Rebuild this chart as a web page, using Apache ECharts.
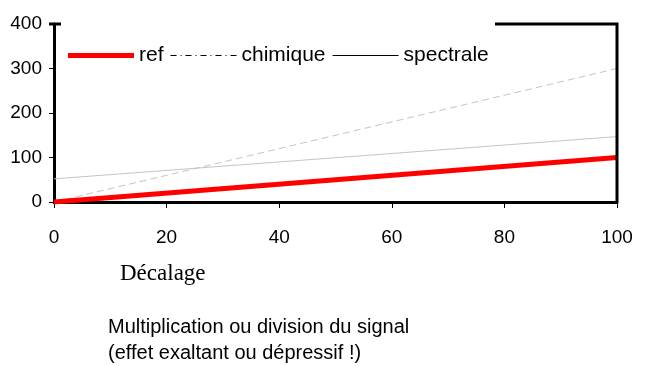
<!DOCTYPE html>
<html><head><meta charset="utf-8">
<script src="https://cdn.jsdelivr.net/npm/echarts@6/dist/echarts.min.js"></script>
<style>html,body{margin:0;padding:0;background:#fff}#c{width:645px;height:366px}</style>
</head><body><div id="c"></div>
<script>
var xValues = [0, 100];
var refValues = [0, 100];
var chimiqueValues = [0, 300];
var spectraleValues = [52, 147];
var xTicks = [0, 20, 40, 60, 80, 100];
var yTicks = [0, 100, 200, 300, 400];
var seriesNames = ['ref', 'chimique', 'spectrale'];
var xTitle = 'Décalage';
var caption = ['Multiplication ou division du signal', '(effet exaltant ou dépressif !)'];

function pairs(ys){ return xValues.map(function(x,i){ return [x, ys[i]]; }); }
var SANS = '"Liberation Sans Narrow","Arial Narrow","Liberation Sans",Arial,sans-serif';
// dash-dot legend icon path (66 wide, 1 tall)
var dd = '';
for (var p = 0; p < 66; p += 15) {
  dd += 'M'+p+',0L'+Math.min(p+6,66)+',0L'+Math.min(p+6,66)+',1L'+p+',1Z';
  if (p+11 <= 66) dd += 'M'+(p+10)+',0L'+(p+11)+',0L'+(p+11)+',1L'+(p+10)+',1Z';
}
var chart = echarts.init(document.getElementById('c'));
chart.setOption({
  animation:false,
  backgroundColor:'#fff',
  grid:{left:54,right:28,top:24,bottom:164},
  xAxis:{type:'value',min:0,max:100,interval:20,
    axisLine:{lineStyle:{color:'#000',width:3}},
    axisTick:{show:true,length:6,lineStyle:{color:'#000',width:1}},
    axisLabel:{margin:26,fontFamily:SANS,fontSize:19,color:'#000',
      formatter:function(v){return xTicks.indexOf(v)>=0?String(v):'';}},
    splitLine:{show:false}},
  yAxis:{type:'value',min:0,max:400,interval:100,
    axisLine:{show:true,lineStyle:{color:'#000',width:3}},
    axisTick:{show:true,length:5,lineStyle:{color:'#000',width:1}},
    axisLabel:{margin:12,fontFamily:SANS,fontSize:19,color:'#000',
      formatter:function(v){return yTicks.indexOf(v)>=0?String(v):'';}},
    splitLine:{show:false}},
  legend:{left:63,top:40,itemWidth:66,itemHeight:10,itemGap:7,symbolKeepAspect:true,
    textStyle:{fontFamily:SANS,fontSize:21,color:'#000'},
    data:[
      {name:seriesNames[0],icon:'path://M0,0L66,0L66,5L0,5Z',itemStyle:{color:'#ff0000'}},
      {name:seriesNames[1],icon:'path://'+dd,itemStyle:{color:'#000'}},
      {name:seriesNames[2],icon:'path://M0,0L66,0L66,1L0,1Z',itemStyle:{color:'#000'}}
    ]},
  series:[
    {name:seriesNames[1],type:'line',symbol:'none',data:pairs(chimiqueValues),
      lineStyle:{color:'#c4c4c4',width:1,type:[7,4]},itemStyle:{color:'#000'}},
    {name:seriesNames[2],type:'line',symbol:'none',data:pairs(spectraleValues),
      lineStyle:{color:'#c4c4c4',width:1},itemStyle:{color:'#000'}},
    {name:seriesNames[0],type:'line',symbol:'none',data:pairs(refValues),
      lineStyle:{color:'#ff0000',width:5},itemStyle:{color:'#ff0000'},z:5}
  ],
  graphic:[
    {type:'polyline',shape:{points:[[495,24],[617,24],[617,202]]},style:{stroke:'#000',lineWidth:3,fill:null},z:10},
    {type:'line',shape:{x1:49,y1:24,x2:61,y2:24},style:{stroke:'#000',lineWidth:3},z:10},
    {type:'text',left:120,top:262,style:{text:xTitle,font:'23px "Liberation Serif","Times New Roman",serif',fill:'#000'}},
    {type:'text',left:108,top:314,style:{text:caption.join('\n'),font:'20px "Liberation Sans",Arial,sans-serif',lineHeight:26,fill:'#000'}}
  ]
});
</script></body></html>
